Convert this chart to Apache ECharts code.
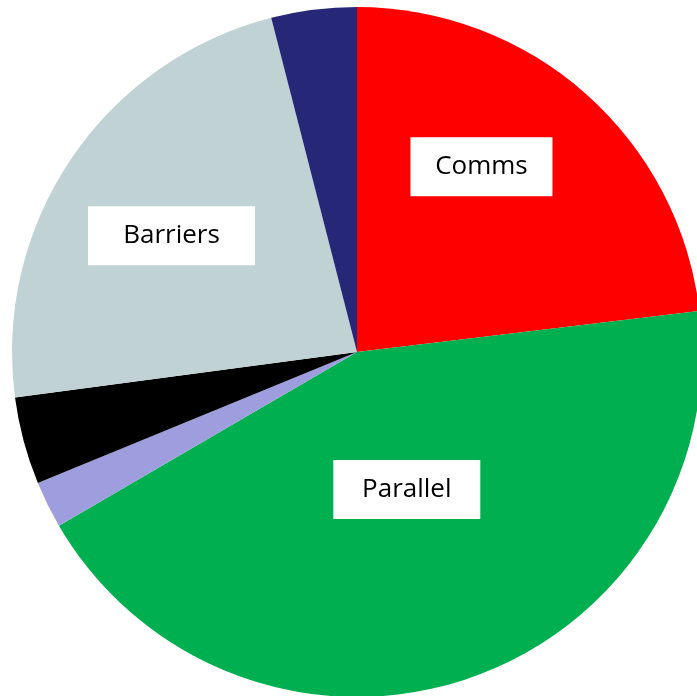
<!DOCTYPE html>
<html>
<head>
<meta charset="utf-8">
<script src="https://cdn.jsdelivr.net/npm/echarts@6/dist/echarts.min.js"></script>
<style>
  html, body { margin: 0; padding: 0; background: #fff; }
  #chart { width: 697px; height: 696px; }
</style>
</head>
<body>
<div id="chart"></div>
<script>
// Share of time per phase, clockwise from 12 o'clock
const categories = ['Comms', 'Parallel', 'Setup', 'Serial', 'Barriers', 'I/O'];
const shares = [23.1, 43.5, 2.2, 4.1, 23.1, 4.0];
const labelled = ['Comms', 'Parallel', 'Barriers'];

const colors = ['#ff0000', '#00b050', '#9e9ede', '#000000', '#c0d2d4', '#272777'];

// Label box placement and size, per labelled slice
const labelBoxes = {
  Comms:    { offset: [8, -54],  width: 142 },
  Parallel: { offset: [-6, -29], width: 147 },
  Barriers: { offset: [-40, -18], width: 167 }
};

const chart = echarts.init(document.getElementById('chart'), null, { renderer: 'canvas' });

const data = categories.map((name, i) => {
  const item = { name: name, value: shares[i], itemStyle: { color: colors[i] } };
  if (labelled.includes(name)) {
    const b = labelBoxes[name];
    item.label = {
      show: true,
      position: 'inside',
      offset: b.offset,
      width: b.width,
      height: 59,
      lineHeight: 59,
      align: 'center',
      verticalAlign: 'middle',
      backgroundColor: '#ffffff',
      color: '#000000',
      fontSize: 26,
      fontFamily: "'Comic Sans MS', 'Open Sans', sans-serif",
      formatter: '{b}'
    };
  } else {
    item.label = { show: false };
  }
  return item;
});

chart.setOption({
  animation: false,
  backgroundColor: '#ffffff',
  series: [{
    type: 'pie',
    center: [357, 352],
    radius: 345,
    startAngle: 90,
    clockwise: true,
    avoidLabelOverlap: false,
    labelLine: { show: false },
    itemStyle: { borderWidth: 0 },
    emphasis: { disabled: true },
    data: data
  }]
});
</script>
</body>
</html>
